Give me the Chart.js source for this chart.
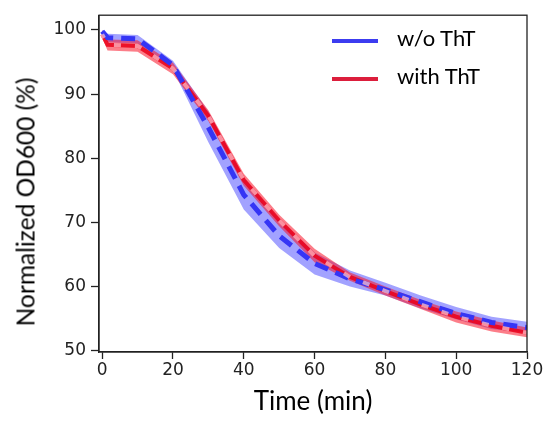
<!DOCTYPE html>
<html>
<head>
<meta charset="utf-8">
<script src="https://cdn.jsdelivr.net/npm/chart.js@4/dist/chart.umd.min.js"></script>
<style>
  html, body { margin: 0; padding: 0; background: #fff; }
  #wrap { position: relative; width: 545px; height: 421px; }
  #legend { position: absolute; left: 330px; top: 24px; font-family: Lato, "Open Sans", sans-serif; font-size: 22px; color: #000; }
  .item { position: relative; height: 38px; }
  .item span.swatch { position: absolute; left: 2px; top: 15px; width: 46px; height: 4px; }
  .item span.label { position: absolute; left: 67px; top: 0; white-space: nowrap; }
  #ytitle { position: absolute; left: 25px; top: 202px; transform: translate(-50%, -50%) rotate(-90deg);
            font-family: Lato, "Open Sans", sans-serif; font-size: 24.5px; color: #000; white-space: nowrap; }
</style>
</head>
<body>
<div id="wrap">
  <canvas id="chart" width="545" height="421"></canvas>
  <div id="ytitle">Normalized OD600 (%)</div>
  <div id="legend">
    <div class="item"><span class="swatch" style="background:#3c3cf0"></span><span class="label">w/o ThT</span></div>
    <div class="item"><span class="swatch" style="background:#dc1e3c"></span><span class="label">with ThT</span></div>
  </div>
</div>
<script>
// --- Data ---
const times = [0, 1.5, 10, 20, 30, 40, 50, 60, 70, 80, 90, 100, 110, 120];

const blueMean  = [99.8, 98.8, 98.6, 94.5, 84.8, 74.3, 67.9, 63.6, 61.2, 59.5, 57.6, 55.8, 54.4, 53.6];
const blueLower = [99.3, 98.1, 97.9, 93.8, 82.5, 72.0, 66.0, 61.9, 60.0, 58.6, 56.6, 54.9, 53.4, 52.8];
const blueUpper = [100.0, 99.4, 99.2, 95.2, 87.3, 77.0, 70.5, 65.3, 62.5, 60.6, 58.6, 56.8, 55.3, 54.5];

const redMean  = [99.3, 97.7, 97.5, 94.0, 86.6, 76.6, 70.3, 64.8, 61.5, 59.3, 57.2, 55.3, 53.9, 52.8];
const redLower = [98.8, 96.8, 96.6, 93.1, 85.8, 75.7, 69.4, 63.8, 60.9, 58.6, 56.5, 54.4, 53.0, 52.1];
const redUpper = [100.0, 98.5, 98.4, 94.9, 87.5, 77.6, 71.2, 65.9, 62.2, 60.0, 57.9, 56.1, 54.7, 53.6];

const xTicks = [0, 20, 40, 60, 80, 100, 120];
const yTicks = [50, 60, 70, 80, 90, 100];

function toPoints(ys) {
  return times.map((t, i) => ({ x: t, y: ys[i] }));
}

function line(data, opts) {
  return Object.assign({
    data: toPoints(data),
    pointRadius: 0,
    borderWidth: 0,
    tension: 0,
    fill: false,
  }, opts);
}

// --- Frame around the plot area ---
const framePlugin = {
  id: "frame",
  afterDraw(chart) {
    const { ctx, chartArea: a } = chart;
    ctx.save();
    ctx.strokeStyle = "#222";
    ctx.lineWidth = 1.3;
    ctx.strokeRect(a.left, a.top, a.right - a.left, a.bottom - a.top);
    ctx.restore();
  },
};

const tickFont = { family: "'DejaVu Sans', sans-serif", size: 17 };
const titleFont = { family: "Lato, 'Open Sans', sans-serif", size: 26 };

new Chart(document.getElementById("chart"), {
  type: "line",
  data: {
    datasets: [
      // blue band
      line(blueLower, { order: 10 }),
      line(blueUpper, { order: 10, fill: "-1", backgroundColor: "rgba(70,70,255,0.5)" }),
      // red band
      line(redLower, { order: 8 }),
      line(redUpper, { order: 8, fill: "-1", backgroundColor: "rgba(250,20,40,0.55)" }),
      // means
      line(redMean, { order: 3, borderWidth: 4, borderColor: "rgba(235,0,25,0.85)" }),
      line(blueMean, { order: 2, borderWidth: 5, borderColor: "#3535f5", borderDash: [14, 8] }),
      line(redMean, { order: 1, borderWidth: 4, borderColor: "rgba(255,190,200,0.75)", borderDash: [7, 14], borderDashOffset: 3 }),
    ],
  },
  options: {
    responsive: false,
    animation: false,
    layout: { padding: { top: 6, right: 18, left: 0, bottom: 0 } },
    plugins: { legend: { display: false }, tooltip: { enabled: false } },
    scales: {
      x: {
        type: "linear",
        min: -0.9,
        max: 120,
        afterBuildTicks: (s) => { s.ticks = xTicks.map((v) => ({ value: v })); },
        afterFit: (s) => { s.height = 69; },
        grid: { drawOnChartArea: false, tickLength: 7, color: "#222", tickWidth: 1.3 },
        border: { color: "#222", width: 1.3 },
        ticks: { font: tickFont, color: "#222", padding: 1, maxRotation: 0 },
        title: { display: true, text: "Time (min)", font: titleFont, color: "#000", padding: { top: 0 } },
      },
      y: {
        min: 49.8,
        max: 102.3,
        afterBuildTicks: (s) => { s.ticks = yTicks.map((v) => ({ value: v })); },
        afterFit: (s) => { s.width = 99; },
        grid: { drawOnChartArea: false, tickLength: 8, color: "#222", tickWidth: 1.3 },
        border: { color: "#222", width: 1.3 },
        ticks: { font: tickFont, color: "#222", padding: 5 },
        title: { display: false },
      },
    },
  },
  plugins: [framePlugin],
});
</script>
</body>
</html>
